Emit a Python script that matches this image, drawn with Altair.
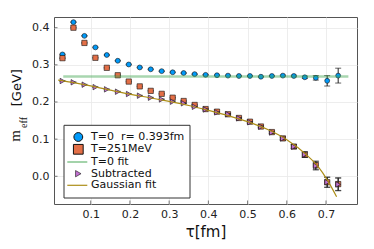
import altair as alt
import pandas as pd

# ---- data ----
tau = [0.028, 0.056, 0.084, 0.112, 0.141, 0.169, 0.197, 0.225, 0.253, 0.281,
       0.309, 0.337, 0.365, 0.393, 0.422, 0.450, 0.478, 0.506, 0.534, 0.562,
       0.590, 0.618, 0.646, 0.674, 0.703, 0.731]

m_t0 = [0.328, 0.415, 0.378, 0.347, 0.3265, 0.311, 0.301, 0.293, 0.288, 0.283,
        0.280, 0.278, 0.275, 0.273, 0.272, 0.271, 0.270, 0.270, 0.268, 0.270,
        0.271, 0.270, 0.2665, 0.265, 0.257, 0.271]
e_t0 = [0.001] * 20 + [0.0015, 0.002, 0.003, 0.006, 0.014, 0.020]

m_t251 = [0.318, 0.400, 0.359, 0.319, 0.292, 0.272, 0.255, 0.242, 0.230, 0.222,
          0.2116, 0.2027, 0.192, 0.181, 0.174, 0.167, 0.157, 0.147, 0.134, 0.119,
          0.102, 0.080, 0.058, 0.030, -0.016, -0.021]
e_t251 = [0.001] * 15 + [0.002] * 4 + [0.003, 0.004, 0.005, 0.0075, 0.011, 0.0135, 0.017]

m_sub = [0.2565, 0.253, 0.2466, 0.240, 0.234, 0.2277, 0.2215, 0.217, 0.2116, 0.207,
         0.2008, 0.1965, 0.187, 0.180, 0.172, 0.167, 0.156, 0.1454, 0.1335, 0.118,
         0.102, 0.0797, 0.0587, 0.028, -0.016, -0.022]
e_sub = [0.001] * 15 + [0.002] * 4 + [0.003, 0.004, 0.005, 0.0075, 0.011, 0.0135, 0.017]

t0fit_tau = [0.030, 0.757]
t0fit_val = [0.2685, 0.2685]

gfit_tau = [0.017, 0.05, 0.1, 0.15, 0.2, 0.25, 0.3, 0.35, 0.4, 0.45, 0.5, 0.55,
            0.6, 0.65, 0.68, 0.705, 0.727]
gfit_val = [0.259, 0.2535, 0.2435, 0.232, 0.221, 0.2115, 0.2015, 0.1905, 0.1775,
            0.1635, 0.147, 0.1265, 0.0985, 0.058, 0.026, -0.013, -0.055]

x_ticks = [0.1, 0.2, 0.3, 0.4, 0.5, 0.6, 0.7]
y_ticks = [0.0, 0.1, 0.2, 0.3, 0.4]

legend_labels = ["T=0\u00a0\u00a0r= 0.393fm", "T=251MeV", "T=0 fit", "Subtracted", "Gaussian fit"]

# ---- colours ----
BLUE, ORANGE, GREEN, PURPLE, GOLD = "#009AFA", "#E36F47", "#3EA44E", "#C371D2", "#AC8E18"

W, H = 303, 187
FONT = "DejaVu Sans"

xs = alt.Scale(domain=[0.0064, 0.779], nice=False, zero=False)
ys = alt.Scale(domain=[-0.0746, 0.4288], nice=False, zero=False)
xaxis = alt.Axis(values=x_ticks, format=".1f", title="τ[fm]", grid=True, tickSize=0,
                 labelPadding=4, domain=False, titlePadding=5)
yaxis = alt.Axis(values=y_ticks, format=".1f", title=None, grid=True, tickSize=0,
                 labelPadding=5, domain=False)

X = lambda f: alt.X(f, type="quantitative", scale=xs, axis=xaxis)
Y = lambda f: alt.Y(f, type="quantitative", scale=ys, axis=yaxis)


def series(vals, errs, color, shape, size):
    df = pd.DataFrame({"tau": tau, "m": vals,
                       "lo": [v - e for v, e in zip(vals, errs)],
                       "hi": [v + e for v, e in zip(vals, errs)]})
    base = alt.Chart(df)
    bar = base.mark_rule(color="#222", strokeWidth=1).encode(
        x=X("tau"), y=Y("lo"), y2="hi")
    cap_lo = base.mark_tick(orient="horizontal", color="#222", thickness=1, size=6).encode(
        x=X("tau"), y=Y("lo"))
    cap_hi = base.mark_tick(orient="horizontal", color="#222", thickness=1, size=6).encode(
        x=X("tau"), y=Y("hi"))
    pts = base.mark_point(shape=shape, filled=True, fill=color, fillOpacity=1, stroke="#111",
                          strokeWidth=0.6, size=size, opacity=1).encode(x=X("tau"), y=Y("m"))
    return [bar, cap_lo, cap_hi, pts]


def line(tx, vy, color, width, opacity=1.0):
    df = pd.DataFrame({"tau": tx, "m": vy})
    return alt.Chart(df).mark_line(color=color, strokeWidth=width, opacity=opacity,
                                   interpolate="monotone").encode(x=X("tau"), y=Y("m"))


layers = []
layers += series(m_t0, e_t0, BLUE, "circle", 24)
layers += series(m_t251, e_t251, ORANGE, "square", 28)
layers.append(line(t0fit_tau, t0fit_val, GREEN, 2.5, 0.45))
layers += series(m_sub, e_sub, PURPLE, "triangle-right", 30)
layers.append(line(gfit_tau, gfit_val, GOLD, 1.2))

# inward ticks
xt = alt.Chart(pd.DataFrame({"t": x_ticks})).mark_rule(color="#555", strokeWidth=0.8).encode(
    x=X("t"), y=alt.value(H), y2=alt.value(H - 3.5))
yt = alt.Chart(pd.DataFrame({"t": y_ticks})).mark_rule(color="#555", strokeWidth=0.8).encode(
    y=Y("t"), x=alt.value(0), x2=alt.value(3.5))
layers += [xt, yt]

# legend
one = alt.Data(values=[{}])
LX0, LX1, LY0, LY1 = 10, 136, 108.3, 181
rows = [120, 132.3, 145, 156.7, 168.3]
SX, TX = 24.3, 37
layers.append(alt.Chart(one).mark_rect(fill="white", stroke="#333", strokeWidth=1).encode(
    x=alt.value(LX0), x2=alt.value(LX1), y=alt.value(LY0), y2=alt.value(LY1)))
layers.append(alt.Chart(one).mark_point(shape="circle", filled=True, fill=BLUE, stroke="#111",
                                        strokeWidth=1, size=78, opacity=1).encode(
    x=alt.value(SX), y=alt.value(rows[0])))
layers.append(alt.Chart(one).mark_point(shape="square", filled=True, fill=ORANGE, stroke="#111",
                                        strokeWidth=1, size=95, opacity=1).encode(
    x=alt.value(SX), y=alt.value(rows[1])))
layers.append(alt.Chart(one).mark_rule(color=GREEN, strokeWidth=1.2, opacity=0.8).encode(
    x=alt.value(13.3), x2=alt.value(33.3), y=alt.value(rows[2])))
layers.append(alt.Chart(one).mark_point(shape="triangle-right", filled=True, fill=PURPLE,
                                        stroke="#111", strokeWidth=0.6, size=40, opacity=1).encode(
    x=alt.value(SX), y=alt.value(rows[3])))
layers.append(alt.Chart(one).mark_rule(color=GOLD, strokeWidth=1.2).encode(
    x=alt.value(13.3), x2=alt.value(33.3), y=alt.value(rows[4])))
leg_df = pd.DataFrame({"label": legend_labels, "row": rows})
layers.append(alt.Chart(leg_df).mark_text(align="left", baseline="middle", font=FONT,
                                          fontSize=11, color="#111").encode(
    x=alt.value(TX), y=alt.Y("row:Q", scale=None), text="label:N"))

# y title: m_eff [GeV]
layers.append(alt.Chart(one).mark_text(text="[GeV]", angle=270, font=FONT, fontSize=13,
                                       align="center", baseline="alphabetic", color="#111").encode(
    x=alt.value(-33.3), y=alt.value(70.7)))
layers.append(alt.Chart(one).mark_text(text="m", angle=270, font="Liberation Serif", fontSize=15,
                                       align="center", baseline="alphabetic", color="#111").encode(
    x=alt.value(-34), y=alt.value(118.8)))
layers.append(alt.Chart(one).mark_text(text="eff", angle=270, font="Liberation Serif", fontSize=10,
                                       align="center", baseline="alphabetic", color="#111").encode(
    x=alt.value(-27.5), y=alt.value(105.5)))

chart = alt.layer(*layers).properties(
    width=W, height=H,
    autosize=alt.AutoSizeParams(type="none"),
    padding={"left": 46, "top": 9, "right": 9, "bottom": 37},
).configure_view(stroke="#555", strokeWidth=1).configure_axis(
    labelFont=FONT, labelFontSize=11, labelColor="#222",
    titleFont=FONT, titleFontSize=15, titleFontWeight="normal", titleColor="#111",
    gridColor="#e8e8e8", gridWidth=0.8,
)

chart.save("out.html", embed_options={"renderer": "svg", "actions": False})
